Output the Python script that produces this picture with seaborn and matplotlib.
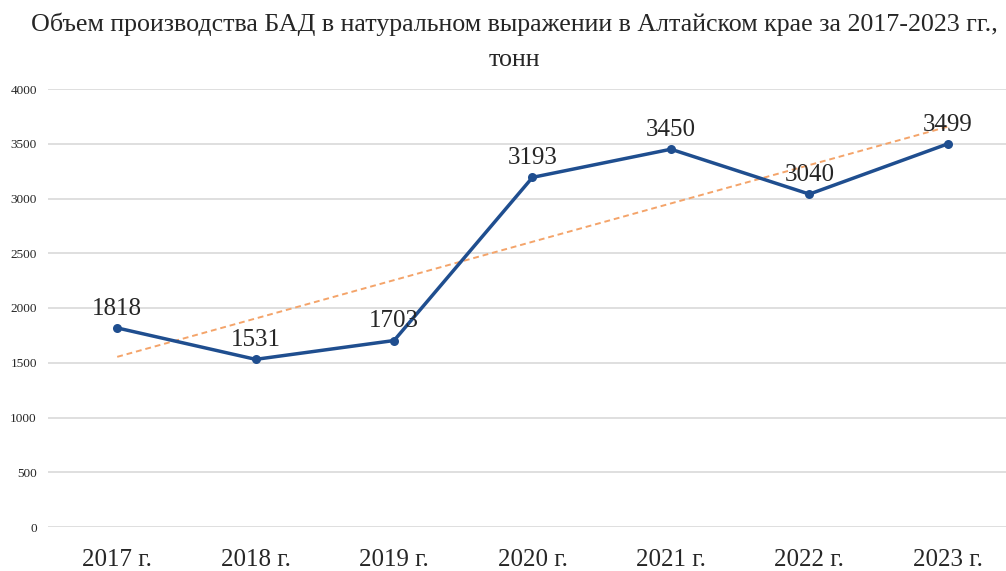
import numpy as np
import pandas as pd
import matplotlib.pyplot as plt
import seaborn as sns

years = ["2017 г.", "2018 г.", "2019 г.", "2020 г.", "2021 г.", "2022 г.", "2023 г."]
volume = [1818, 1531, 1703, 3193, 3450, 3040, 3499]

df = pd.DataFrame({"pos": range(len(years)), "volume": volume})

sns.set_style("white")
plt.rcParams["font.family"] = ["Liberation Serif", "DejaVu Serif"]

fig = plt.figure(figsize=(10.06, 5.71), dpi=100)
ax = fig.add_axes([48 / 1006, 44 / 571, 969 / 1006, 438 / 571])

# linear trend line
k, b = np.polyfit(df["pos"], df["volume"], 1)
ax.plot(df["pos"], k * df["pos"] + b, color="#F4A46A", lw=1.4,
        ls=(0, (3, 2)), zorder=2)

sns.lineplot(data=df, x="pos", y="volume", ax=ax, color="#1F4E8F",
             lw=2.5, marker="o", markersize=6.5, markeredgewidth=0, zorder=3)

for x, y in zip(df["pos"], df["volume"]):
    ax.annotate(str(y), (x, y), xytext=(0, 6), textcoords="offset points",
                ha="center", va="bottom", fontsize=18)

ax.set_xlim(-0.5, 6.5)
ax.set_ylim(0, 4000)
ax.set_yticks(range(0, 4001, 500))
ax.set_xticks(range(len(years)))
ax.set_xticklabels(years, fontsize=18)
ax.tick_params(axis="y", labelsize=9.5, pad=8, length=0)
ax.tick_params(axis="x", pad=15.5, length=0)
ax.grid(axis="y", color="#D9D9D9", lw=1.2)
ax.set_xlabel("")
ax.set_ylabel("")
sns.despine(ax=ax, left=True, bottom=True)

fig.suptitle("Объем производства БАД в натуральном выражении в Алтайском крае за 2017-2023 гг.,\nтонн",
             fontsize=18.7, x=514 / 1006, y=1 - 13 / 571, linespacing=1.75)

fig.savefig("out.png", dpi=100)
